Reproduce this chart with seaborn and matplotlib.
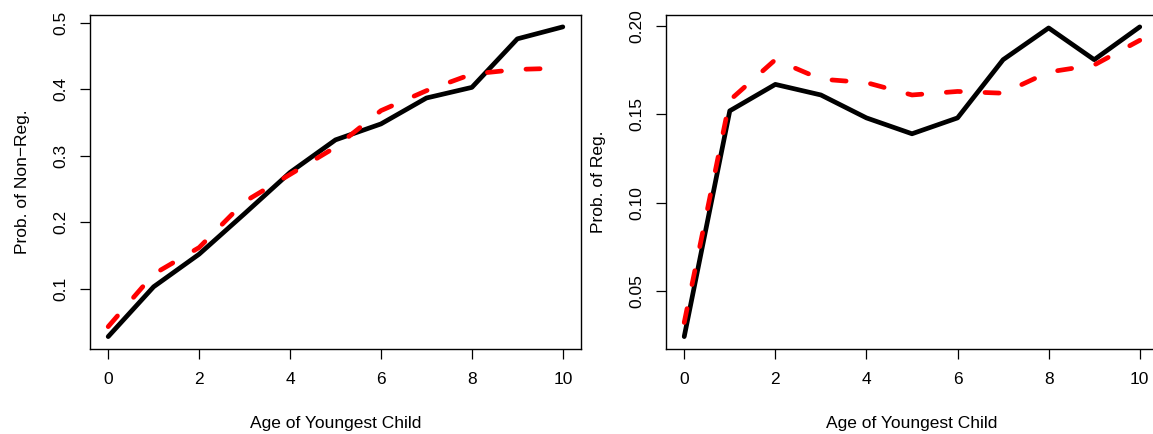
import numpy as np
import pandas as pd
import matplotlib
matplotlib.use("Agg")
import matplotlib.pyplot as plt
import seaborn as sns

# ==============================
# DATA
# ==============================
age = [0, 1, 2, 3, 4, 5, 6, 7, 8, 9, 10]

nonreg_obs = [0.028, 0.103, 0.152, 0.213, 0.275, 0.324, 0.348, 0.387, 0.403, 0.476, 0.494]
nonreg_fit = [0.043, 0.122, 0.162, 0.231, 0.272, 0.313, 0.368, 0.398, 0.423, 0.430, 0.432]

reg_obs = [0.024, 0.152, 0.167, 0.161, 0.148, 0.139, 0.148, 0.181, 0.199, 0.181, 0.1996]
reg_fit = [0.032, 0.158, 0.181, 0.170, 0.168, 0.161, 0.163, 0.162, 0.174, 0.178, 0.192]

x_ticks = [0, 2, 4, 6, 8, 10]
left_yticks = [0.1, 0.2, 0.3, 0.4, 0.5]
left_ylabels = ["0.1", "0.2", "0.3", "0.4", "0.5"]
right_yticks = [0.05, 0.10, 0.15, 0.20]
right_ylabels = ["0.05", "0.10", "0.15", "0.20"]

# ==============================
# STYLE (R base graphics look)
# ==============================
sns.set_style("white")
plt.rcParams["font.family"] = ["Liberation Sans", "DejaVu Sans"]
plt.rcParams.update({
    "axes.linewidth": 1.0,
    "axes.edgecolor": "black",
    "text.color": "black",
    "axes.labelcolor": "black",
    "xtick.color": "black",
    "ytick.color": "black",
    "xtick.bottom": True,
    "ytick.left": True,
    "xtick.major.size": 7,
    "ytick.major.size": 7,
    "xtick.major.width": 0.9,
    "ytick.major.width": 0.9,
})

W, H = 1153, 434
fig = plt.figure(figsize=(W / 100, H / 100), dpi=100)

bottom = (H - 349) / H
height = 334.5 / H
ax1 = fig.add_axes([90 / W, bottom, 491 / W, height])
ax2 = fig.add_axes([666 / W, bottom, 492 / W, height])

FS = 12.5


def r_limits(vals):
    lo, hi = min(vals), max(vals)
    pad = 0.04 * (hi - lo)
    return lo - pad, hi + pad


def draw_panel(ax, obs, fit, yticks, ylabels, ylab):
    df = pd.DataFrame({"age": age, "obs": obs, "fit": fit})
    sns.lineplot(data=df, x="age", y="obs", ax=ax, color="black", linewidth=3.4,
                 solid_capstyle="round", solid_joinstyle="round")
    sns.lineplot(data=df, x="age", y="fit", ax=ax, color="#ff0000", linewidth=3.4,
                 linestyle=(0, (3.0, 5.2)), dash_capstyle="round")
    ax.set_xlim(r_limits(age))
    ax.set_ylim(r_limits(obs + fit))
    ax.set_xticks(x_ticks)
    ax.set_xticklabels([str(t) for t in x_ticks], fontsize=FS)
    ax.set_yticks(yticks)
    ax.set_yticklabels(ylabels, fontsize=FS, rotation=90, va="center")
    ax.tick_params(axis="x", pad=9.5)
    ax.tick_params(axis="y", pad=8.5)
    ax.set_xlabel("Age of Youngest Child", fontsize=FS, labelpad=21)
    ax.set_ylabel(ylab, fontsize=FS, labelpad=17)
    for s in ax.spines.values():
        s.set_visible(True)


draw_panel(ax1, nonreg_obs, nonreg_fit, left_yticks, left_ylabels, "Prob. of Non\u2212Reg.")
draw_panel(ax2, reg_obs, reg_fit, right_yticks, right_ylabels, "Prob. of Reg.")

fig.savefig("out.png", dpi=100, facecolor="white")
